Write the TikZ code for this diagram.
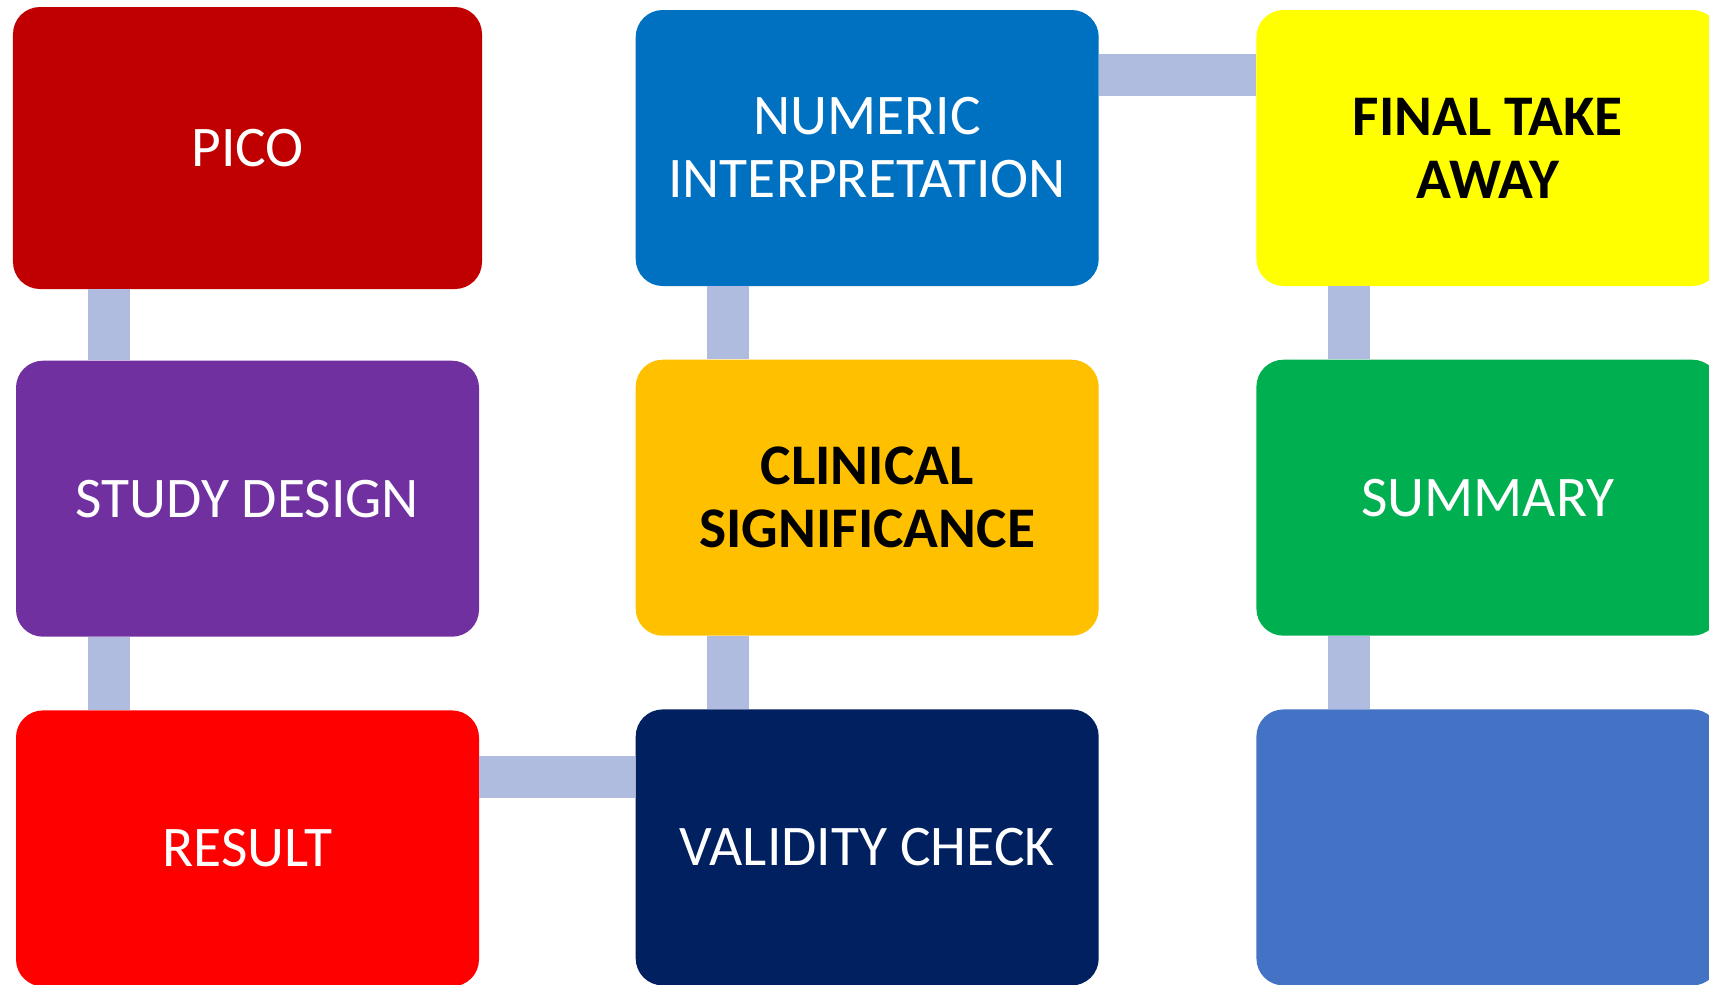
\documentclass[tikz,border=0pt]{standalone}
\usepackage{fontspec}
\setmainfont{Carlito}
\usepackage{tikz}
\usetikzlibrary{positioning}

\definecolor{picored}{HTML}{C00000}
\definecolor{studypurple}{HTML}{7030A0}
\definecolor{resultred}{HTML}{FF0000}
\definecolor{numericblue}{HTML}{0070C0}
\definecolor{clinicalorange}{HTML}{FFC000}
\definecolor{validitynavy}{HTML}{002060}
\definecolor{finalyellow}{HTML}{FFFF00}
\definecolor{summarygreen}{HTML}{00B050}
\definecolor{blankblue}{HTML}{4472C4}
\definecolor{barblue}{HTML}{B0BCDF}

\begin{document}
\begin{tikzpicture}[node distance=1.46cm,
			box/.style={rectangle,rounded corners=0.54cm,
				minimum width=9.26cm,minimum height=5.52cm,
				text=white,align=center,inner sep=0pt,
				font=\fontsize{32.7}{35.9}\selectfont},
			dark text/.style={text=black,font=\fontsize{32.7}{35.9}\selectfont\bfseries},
			bar/.style={draw=barblue,line width=0.84cm}]
			
			\useasboundingbox (0,0) rectangle (34.18,-19.68);
			\clip (0,0) rectangle (34.18,-19.68);
			
			\node[box,fill=picored,minimum width=9.38cm,minimum height=5.64cm] (pico) at (4.95,-2.96) {PICO};
			\node[box,fill=studypurple] (study) [below=1.42cm of pico] {STUDY DESIGN};
			\node[box,fill=resultred] (result) [below=of study] {RESULT};
			\node[box,fill=numericblue] (numeric) [right=3.06cm of pico] {NUMERIC\\INTERPRETATION};
			\node[box,fill=clinicalorange,dark text] (clinical) [below=of numeric] {CLINICAL\\SIGNIFICANCE};
			\node[box,fill=validitynavy] (validity) [below=of clinical] {VALIDITY CHECK};
			\node[box,fill=finalyellow,dark text] (final) [right=3.14cm of numeric] {FINAL TAKE\\AWAY};
			\node[box,fill=summarygreen] (summary) [below=of final] {SUMMARY};
			\node[box,fill=blankblue] (blank) [below=of summary] {};
			
			\foreach \a/\b in {pico/study,study/result,numeric/clinical,
				clinical/validity,final/summary,summary/blank}
			\draw[bar] ([xshift=1.86cm]\b.north west |- \a.south) -- ([xshift=1.86cm]\b.north west);
			
			\draw[bar] ([yshift=-1.34cm]result.north east) -- ([yshift=-1.34cm]result.north east -| validity.west);
			\draw[bar] ([yshift=-1.3cm]numeric.north east) -- ([yshift=-1.3cm]numeric.north east -| final.west);
		\end{tikzpicture}
\end{document}
